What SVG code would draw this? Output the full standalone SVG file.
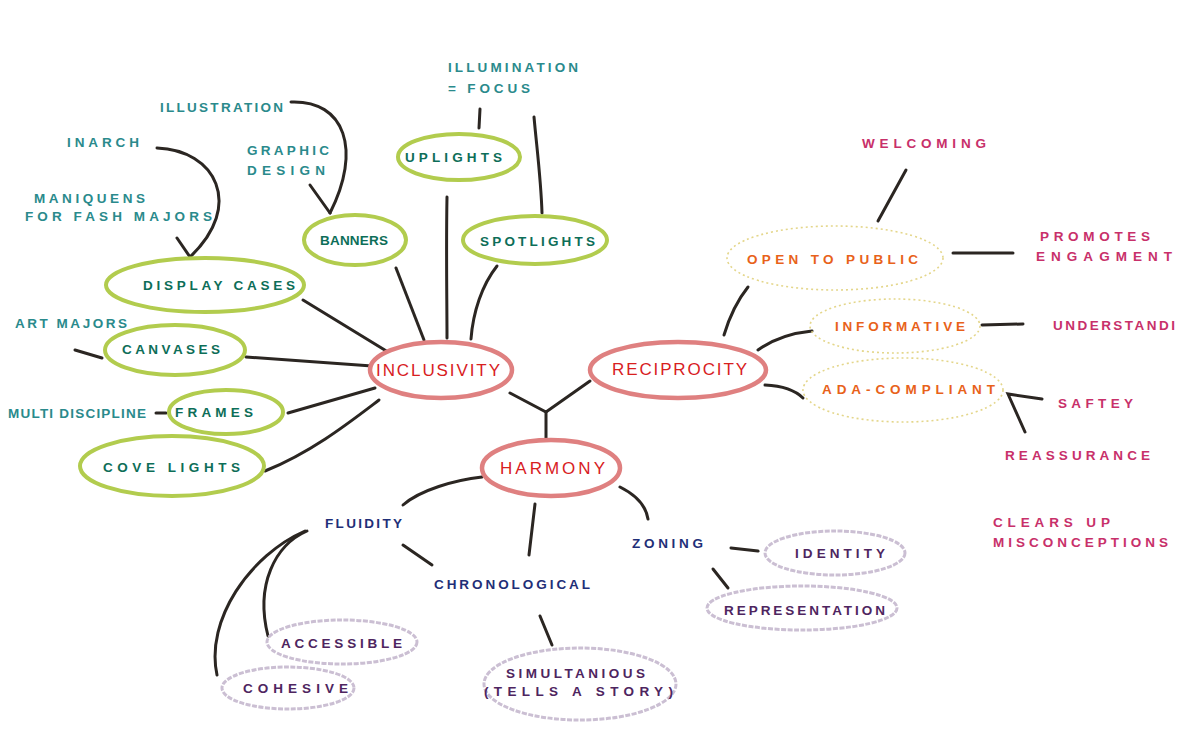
<svg xmlns="http://www.w3.org/2000/svg" width="1182" height="748" viewBox="0 0 1182 748">
<style>
text{font-family:"Liberation Sans",Arial,sans-serif;font-weight:bold;font-size:13.5px;dominant-baseline:central}
.teal{fill:#2a8a8c}
.dg{fill:#0d6e58}
.red{fill:#d8201e;font-weight:normal;font-size:17px}
.or{fill:#e8621a}
.mg{fill:#c8306a}
.nv{fill:#1f2f78}
.pu{fill:#4e2560}
.ge{fill:#fff;stroke:#b2cc4e;stroke-width:4}
.re{fill:#fff;stroke:#df8080;stroke-width:4.5}
.oe{fill:none;stroke:#e4d68a;stroke-width:1.6;stroke-dasharray:2 3}
.pe{fill:none;stroke:#cbbfd3;stroke-width:3;stroke-dasharray:5 1.5}
.c path,.c line{fill:none;stroke:#2b2622;stroke-width:3;stroke-linecap:round}
</style>
<rect width="1182" height="748" fill="#fff"/>
<g class="c" id="connectors">
<path d="M291,102 C345,100 362,150 330,213"/>
<path d="M310,185 L330,213"/>
<path d="M157,148 C215,150 245,205 190,257"/>
<path d="M177,238 L190,257"/>
<line x1="480" y1="109" x2="479" y2="128"/>
<path d="M534,117 C537,150 541,180 542,213"/>
<path d="M447,197 C446,250 447,300 447,338"/>
<line x1="396" y1="268" x2="424" y2="340"/>
<path d="M497,266 C482,285 473,312 471,339"/>
<line x1="303" y1="300" x2="388" y2="352"/>
<line x1="246" y1="357" x2="372" y2="366"/>
<line x1="75" y1="350" x2="102" y2="358"/>
<line x1="288" y1="413" x2="375" y2="388"/>
<line x1="156" y1="413" x2="166" y2="413"/>
<path d="M265,471 C312,452 350,422 379,400"/>
<path d="M510,393 L546,412 L590,381"/>
<line x1="546" y1="412" x2="546" y2="438"/>
<line x1="906" y1="170" x2="878" y2="221"/>
<line x1="953" y1="253" x2="1013" y2="253"/>
<path d="M724,335 C730,315 740,297 748,287"/>
<path d="M758,350 C772,340 792,333 812,331"/>
<line x1="982" y1="325" x2="1023" y2="324"/>
<path d="M765,385 C785,386 797,392 803,398"/>
<path d="M1042,399 L1008,394 L1025,432"/>
<path d="M482,477 C455,480 420,490 403,505"/>
<line x1="403" y1="545" x2="432" y2="565"/>
<line x1="535" y1="504" x2="529" y2="555"/>
<path d="M620,487 C636,495 646,506 648,519"/>
<line x1="731" y1="548" x2="758" y2="551"/>
<line x1="713" y1="569" x2="728" y2="588"/>
<line x1="540" y1="616" x2="552" y2="645"/>
<path d="M307,531 C275,545 255,585 268,636"/>
<path d="M305,531 C250,555 205,620 217,675"/>
</g>
<g id="illumination"><text class="teal" x="448" y="67" textLength="130">ILLUMINATION</text><text class="teal" x="448" y="88" textLength="82">= FOCUS</text></g>
<g id="illustration"><text class="teal" x="160" y="107" textLength="123">ILLUSTRATION</text></g>
<g id="inarch"><text class="teal" x="67" y="142" textLength="72">INARCH</text></g>
<g id="graphic-design"><text class="teal" x="247" y="150" textLength="82">GRAPHIC</text><text class="teal" x="247" y="170" textLength="78">DESIGN</text></g>
<g id="maniquens"><text class="teal" x="34" y="198" textLength="111">MANIQUENS</text><text class="teal" x="25" y="216" textLength="187">FOR FASH MAJORS</text></g>
<g id="uplights"><ellipse class="ge" cx="459" cy="157" rx="61" ry="23"/><text class="dg" x="405" y="157" textLength="97">UPLIGHTS</text></g>
<g id="banners"><ellipse class="ge" cx="355" cy="240" rx="51" ry="25"/><text class="dg" x="320" y="240" textLength="68">BANNERS</text></g>
<g id="spotlights"><ellipse class="ge" cx="535" cy="240" rx="72" ry="24"/><text class="dg" x="480" y="241" textLength="115">SPOTLIGHTS</text></g>
<g id="display-cases"><ellipse class="ge" cx="205" cy="285" rx="99" ry="27"/><text class="dg" x="143" y="285" textLength="152">DISPLAY CASES</text></g>
<g id="art-majors"><text class="teal" x="15" y="323" textLength="112">ART MAJORS</text></g>
<g id="canvases"><ellipse class="ge" cx="175" cy="350" rx="70" ry="25"/><text class="dg" x="122" y="349" textLength="98">CANVASES</text></g>
<g id="multi-discipline"><text class="teal" x="8" y="413" textLength="138">MULTI DISCIPLINE</text></g>
<g id="frames"><ellipse class="ge" cx="226" cy="412" rx="57" ry="22"/><text class="dg" x="175" y="412" textLength="78">FRAMES</text></g>
<g id="cove-lights"><ellipse class="ge" cx="172" cy="466" rx="92" ry="30"/><text class="dg" x="103" y="467" textLength="137">COVE LIGHTS</text></g>
<g id="inclusivity"><ellipse class="re" cx="441" cy="370" rx="71" ry="28"/><text class="red" x="376" y="370" textLength="124">INCLUSIVITY</text></g>
<g id="reciprocity"><ellipse class="re" cx="678" cy="370" rx="88" ry="28"/><text class="red" x="612" y="369" textLength="135">RECIPROCITY</text></g>
<g id="harmony"><ellipse class="re" cx="551" cy="468" rx="69" ry="28"/><text class="red" x="500" y="468" textLength="105">HARMONY</text></g>
<g id="welcoming"><text class="mg" x="862" y="143" textLength="124">WELCOMING</text></g>
<g id="open-to-public"><ellipse class="oe" cx="835" cy="258" rx="108" ry="32"/><text class="or" x="747" y="259" textLength="171">OPEN TO PUBLIC</text></g>
<g id="promotes"><text class="mg" x="1040" y="236" textLength="110">PROMOTES</text><text class="mg" x="1036" y="256" textLength="136">ENGAGMENT</text></g>
<g id="informative"><ellipse class="oe" cx="895" cy="326" rx="85" ry="27"/><text class="or" x="835" y="326" textLength="130">INFORMATIVE</text></g>
<g id="understand"><text class="mg" x="1053" y="325" textLength="122">UNDERSTANDI</text></g>
<g id="ada"><ellipse class="oe" cx="903" cy="390" rx="100" ry="32"/><text class="or" x="822" y="389" textLength="173">ADA-COMPLIANT</text></g>
<g id="saftey"><text class="mg" x="1058" y="403" textLength="75">SAFTEY</text></g>
<g id="reassurance"><text class="mg" x="1005" y="455" textLength="145">REASSURANCE</text></g>
<g id="clears-up"><text class="mg" x="993" y="522" textLength="117">CLEARS UP</text><text class="mg" x="993" y="542" textLength="175">MISCONCEPTIONS</text></g>
<g id="fluidity"><text class="nv" x="325" y="523" textLength="77">FLUIDITY</text></g>
<g id="chronological"><text class="nv" x="434" y="584" textLength="156">CHRONOLOGICAL</text></g>
<g id="zoning"><text class="nv" x="632" y="543" textLength="71">ZONING</text></g>
<g id="identity"><ellipse class="pe" cx="835" cy="553" rx="70" ry="22"/><text class="pu" x="795" y="553" textLength="90">IDENTITY</text></g>
<g id="representation"><ellipse class="pe" cx="802" cy="608" rx="95" ry="22"/><text class="pu" x="724" y="610" textLength="161">REPRESENTATION</text></g>
<g id="accessible"><ellipse class="pe" cx="342" cy="642" rx="75" ry="22"/><text class="pu" x="281" y="643" textLength="121">ACCESSIBLE</text></g>
<g id="cohesive"><ellipse class="pe" cx="288" cy="688" rx="66" ry="21"/><text class="pu" x="243" y="688" textLength="105">COHESIVE</text></g>
<g id="simultanious"><ellipse class="pe" cx="580" cy="684" rx="96" ry="36"/><text class="pu" x="506" y="673" textLength="139">SIMULTANIOUS</text><text class="pu" x="484" y="691" textLength="189">(TELLS A STORY)</text></g>
</svg>
